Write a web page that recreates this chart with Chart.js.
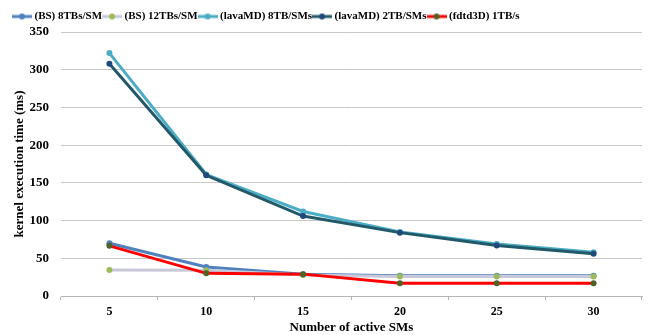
<!DOCTYPE html>
<html>
<head>
<meta charset="utf-8">
<script src="https://cdn.jsdelivr.net/npm/chart.js@4"></script>
<style>
  html, body { margin: 0; padding: 0; background: #fff; }
  #wrap { width: 649px; height: 335px; }
</style>
</head>
<body>
<div id="wrap"><canvas id="smChart"></canvas></div>
<script>
// values
const activeSMs = ['5', '10', '15', '20', '25', '30'];
const bs8 = [70, 38.5, 29, 27, 27, 27];
const bs12 = [34.5, 34, 28, 26, 26, 26];
const lava8 = [322, 161, 112, 85, 69, 58];
const lava2 = [308, 160, 106, 84, 67, 56];
const fdtd = [66.5, 30, 29, 17, 17, 17];
const yTicks = [0, 50, 100, 150, 200, 250, 300, 350];

const serif = "'Liberation Serif', 'Times New Roman', serif";

// legend swatch: short line with a dot in the middle, like the office legend
function swatch(lineColor, dotColor) {
    const c = document.createElement('canvas');
    c.width = 20;
    c.height = 8;
    const ctx = c.getContext('2d');
    ctx.strokeStyle = lineColor;
    ctx.lineWidth = 3;
    ctx.beginPath();
    ctx.moveTo(0, 4);
    ctx.lineTo(20, 4);
    ctx.stroke();
    ctx.fillStyle = dotColor;
    ctx.beginPath();
    ctx.arc(10, 4, 3, 0, Math.PI * 2);
    ctx.fill();
    return c;
}

const series = [
    { label: '(BS) 8TBs/SM', data: bs8, line: '#4f81bd', dot: '#4f81bd' },
    { label: '(BS) 12TBs/SM', data: bs12, line: '#c8c8da', dot: '#9bbb59' },
    { label: '(lavaMD) 8TB/SMs', data: lava8, line: '#4bacc6', dot: '#4bacc6' },
    { label: '(lavaMD) 2TB/SMs', data: lava2, line: '#215968', dot: '#1f497d' },
    { label: '(fdtd3D) 1TB/s', data: fdtd, line: '#ff0000', dot: '#4f6228' }
];

const datasets = series.map((s, i) => ({
    label: s.label,
    data: s.data,
    borderColor: s.line,
    backgroundColor: s.dot,
    pointBackgroundColor: s.dot,
    pointBorderColor: s.dot,
    pointStyle: 'circle',
    pointRadius: 3,
    pointBorderWidth: 0,
    borderWidth: 3,
    tension: 0,
    order: 4 - i // later series drawn on top
}));

new Chart(document.getElementById('smChart'), {
    type: 'line',
    data: { labels: activeSMs, datasets: datasets },
    options: {
        responsive: true,
        maintainAspectRatio: false,
        animation: false,
        layout: { padding: { left: 12, right: 7, top: 8, bottom: 0 } },
        plugins: {
            tooltip: { enabled: false },
            legend: {
                position: 'top',
                align: 'start',
                sort: (a, b) => a.datasetIndex - b.datasetIndex,
                labels: {
                    usePointStyle: true,
                    pointStyleWidth: 14,
                    padding: 3,
                    color: '#000',
                    font: { family: serif, size: 11, weight: 'bold' },
                    generateLabels: chart => chart.data.datasets.map((ds, i) => ({
                        text: ds.label,
                        datasetIndex: i,
                        pointStyle: swatch(series[i].line, series[i].dot),
                        fillStyle: ds.borderColor,
                        strokeStyle: ds.borderColor,
                        lineWidth: 0,
                        fontColor: '#000',
                        hidden: false
                    }))
                }
            }
        },
        scales: {
            x: {
                offset: true,
                afterFit: s => { s.height = 39; },
                grid: {
                    offset: true,
                    drawOnChartArea: false,
                    drawTicks: true,
                    tickLength: 4,
                    color: '#b4b4b4'
                },
                border: { display: true, color: '#b4b4b4' },
                ticks: {
                    color: '#000',
                    padding: 5,
                    font: { family: serif, size: 12, weight: 'bold' }
                },
                title: {
                    display: true,
                    text: 'Number of active SMs',
                    color: '#000',
                    padding: { top: 0, bottom: 0 },
                    font: { family: serif, size: 13, weight: 'bold' }
                }
            },
            y: {
                min: 0,
                max: 350,
                afterFit: s => { s.width = 49; },
                afterBuildTicks: axis => {
                    axis.ticks = yTicks.map(v => ({ value: v }));
                },
                grid: { color: '#c8c8c8', drawTicks: false },
                border: { display: false },
                ticks: {
                    color: '#000',
                    padding: 12,
                    font: { family: serif, size: 13, weight: 'bold' }
                },
                title: {
                    display: true,
                    text: 'kernel execution time (ms)',
                    color: '#000',
                    padding: { top: 0, bottom: 2 },
                    font: { family: serif, size: 13, weight: 'bold' }
                }
            }
        }
    }
});
</script>
</body>
</html>
